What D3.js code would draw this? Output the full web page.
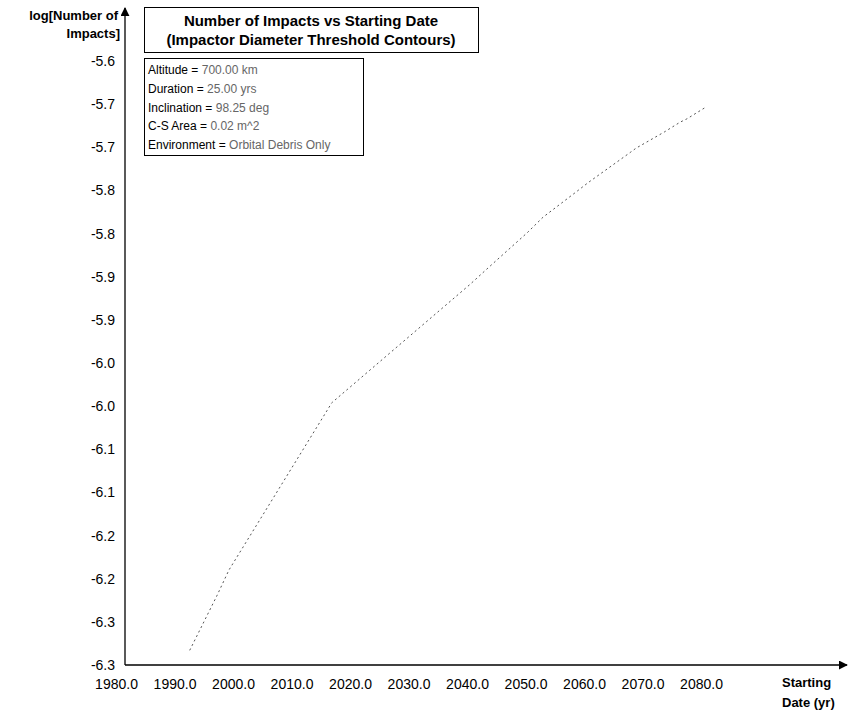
<!DOCTYPE html>
<html>
<head>
<meta charset="utf-8">
<script src="https://cdn.jsdelivr.net/npm/d3@7"></script>
<style>
  html, body { margin: 0; padding: 0; background: #fff; }
  svg { display: block; font-family: "Liberation Sans", Arial, Helvetica, sans-serif; }
</style>
</head>
<body>
<svg id="chart" width="848" height="710"></svg>
<script>
// ---- Data ----
const startYears = [1992.6, 1997.3, 1999.3, 2016.9, 2040.5, 2043.9, 2050.3, 2053.0, 2058.8, 2060.7, 2067.9, 2068.9, 2073.8, 2076.4, 2077.6, 2080.7];
const logImpacts = [-6.313, -6.249, -6.220, -6.026, -5.889, -5.868, -5.829, -5.811, -5.781, -5.771, -5.736, -5.731, -5.712, -5.701, -5.697, -5.684];

const xTickValues = [1980, 1990, 2000, 2010, 2020, 2030, 2040, 2050, 2060, 2070, 2080];
const yTickValues = [-6.33, -6.28, -6.23, -6.18, -6.13, -6.08, -6.03, -5.98, -5.93, -5.88, -5.83, -5.78, -5.73, -5.68, -5.63];

const titleLines = ["Number of Impacts vs Starting Date", "(Impactor Diameter Threshold Contours)"];
const infoLabels = ["Altitude = ", "Duration = ", "Inclination = ", "C-S Area = ", "Environment = "];
const infoValues = ["700.00 km", "25.00 yrs", "98.25 deg", "0.02 m^2", "Orbital Debris Only"];
const yTitleLines = ["log[Number of", "Impacts]"];
const xTitleLines = ["Starting", "Date (yr)"];

// ---- Layout ----
const svg = d3.select("#chart");
const x = d3.scaleLinear().domain([1980, 2080]).range([116, 701]);
const y = d3.scaleLinear().domain([-6.33, -5.63]).range([665, 61]);
const axisX0 = 125;            // position of vertical axis line
const axisY0 = 665;            // position of horizontal axis line
const fmt = d => d.toFixed(1); // plain hyphen-minus like the original

// arrow marker
const defs = svg.append("defs");
defs.append("marker")
  .attr("id", "arrow")
  .attr("viewBox", "0 0 10 10")
  .attr("refX", 9).attr("refY", 5)
  .attr("markerWidth", 9).attr("markerHeight", 9)
  .attr("markerUnits", "userSpaceOnUse")
  .attr("orient", "auto")
  .append("path").attr("d", "M0,0 L10,5 L0,10 Z").attr("fill", "#000");

// axis lines
svg.append("line")
  .attr("x1", axisX0).attr("y1", axisY0)
  .attr("x2", axisX0).attr("y2", 8)
  .attr("stroke", "#000").attr("stroke-width", 1.3)
  .attr("marker-end", "url(#arrow)");
svg.append("line")
  .attr("x1", axisX0).attr("y1", axisY0)
  .attr("x2", 847).attr("y2", axisY0)
  .attr("stroke", "#000").attr("stroke-width", 1.3)
  .attr("marker-end", "url(#arrow)");

// y tick labels
const yAxis = d3.axisLeft(y).tickValues(yTickValues).tickSize(0).tickPadding(0).tickFormat(fmt);
const gy = svg.append("g").attr("transform", "translate(115,0)").call(yAxis);
gy.select(".domain").remove();
gy.selectAll("text").attr("font-size", 14).attr("fill", "#000")
  .attr("font-family", "'Liberation Sans', Arial, sans-serif");

// x tick labels
const xAxis = d3.axisBottom(x).tickValues(xTickValues).tickSize(0).tickPadding(0).tickFormat(fmt);
const gx = svg.append("g").attr("transform", "translate(0,679)").call(xAxis);
gx.select(".domain").remove();
gx.selectAll("text").attr("font-size", 14).attr("fill", "#000")
  .attr("font-family", "'Liberation Sans', Arial, sans-serif");

// axis titles
svg.append("g").selectAll("text").data(yTitleLines).join("text")
  .attr("x", (d, i) => i === 0 ? 118 : 120)
  .attr("y", (d, i) => 20 + i * 18)
  .attr("text-anchor", "end")
  .attr("font-size", 13).attr("font-weight", "bold")
  .text(d => d);

svg.append("g").selectAll("text").data(xTitleLines).join("text")
  .attr("x", 782)
  .attr("y", (d, i) => 687 + i * 20)
  .attr("font-size", 13).attr("font-weight", "bold")
  .text(d => d);

// data line
const pts = startYears.map((d, i) => [d, logImpacts[i]]);
const line = d3.line().x(d => x(d[0])).y(d => y(d[1]));
svg.append("path")
  .datum(pts)
  .attr("d", line)
  .attr("fill", "none")
  .attr("stroke", "#555")
  .attr("stroke-width", 1)
  .attr("stroke-dasharray", "2,3");

// title box
svg.append("rect")
  .attr("x", 144.5).attr("y", 7.5).attr("width", 334).attr("height", 45)
  .attr("fill", "#fff").attr("stroke", "#000").attr("stroke-width", 1);
svg.append("g").selectAll("text").data(titleLines).join("text")
  .attr("x", 311).attr("y", (d, i) => 26 + i * 19)
  .attr("text-anchor", "middle")
  .attr("font-size", 15).attr("font-weight", "bold")
  .text(d => d);

// info box
svg.append("rect")
  .attr("x", 144.5).attr("y", 58.5).attr("width", 219).attr("height", 97)
  .attr("fill", "#fff").attr("stroke", "#000").attr("stroke-width", 1);
const info = svg.append("g").selectAll("text").data(infoLabels).join("text")
  .attr("x", 148)
  .attr("y", (d, i) => 74 + i * 18.8)
  .attr("font-size", 12);
info.append("tspan").attr("fill", "#000").text(d => d);
info.append("tspan").attr("fill", "#666").text((d, i) => infoValues[i]);
</script>
</body>
</html>
